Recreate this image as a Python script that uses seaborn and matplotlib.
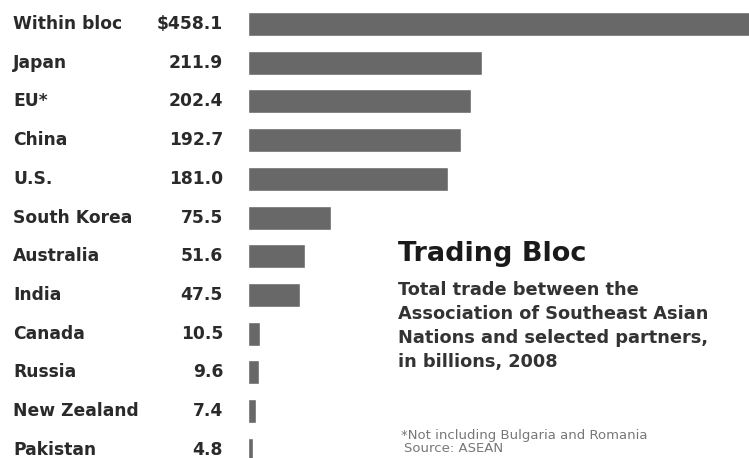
import matplotlib
matplotlib.use("Agg")
import matplotlib.pyplot as plt
import matplotlib.transforms as mtransforms
import seaborn as sns
import pandas as pd

categories = ["Within bloc", "Japan", "EU*", "China", "U.S.", "South Korea",
              "Australia", "India", "Canada", "Russia", "New Zealand", "Pakistan"]
values = [458.1, 211.9, 202.4, 192.7, 181.0, 75.5, 51.6, 47.5, 10.5, 9.6, 7.4, 4.8]
value_labels = ["$458.1", "211.9", "202.4", "192.7", "181.0", "75.5",
                "51.6", "47.5", "10.5", "9.6", "7.4", "4.8"]

title = "Trading Bloc"
subtitle = ["Total trade between the", "Association of Southeast Asian",
            "Nations and selected partners,", "in billions, 2008"]
notes = ["*Not including Bulgaria and Romania", "Source: ASEAN"]

df = pd.DataFrame({"partner": categories, "value": values})

sns.set_theme(style="white")
plt.rcParams["font.family"] = ["DejaVu Sans"]

W, H = 749, 458
fig = plt.figure(figsize=(W / 100, H / 100), dpi=100)
ax = fig.add_axes([248 / W, 0, 1 - 248 / W, 1])

sns.barplot(data=df, y="partner", x="value", orient="h", color="#686868",
            saturation=1, width=0.62, ax=ax)

ax.set_xlim(0, 454.2)
ax.set_ylim(11.21, -0.62)
ax.set_axis_off()

trans = mtransforms.blended_transform_factory(fig.transFigure, ax.transData)
for i, (cat, lab) in enumerate(zip(categories, value_labels)):
    ax.text(13 / W, i, cat, transform=trans, ha="left", va="center",
            fontsize=12.3, fontweight="bold", color="#2a2a2a", clip_on=False)
    ax.text(223 / W, i, lab, transform=trans, ha="right", va="center",
            fontsize=12.3, fontweight="bold", color="#2a2a2a", clip_on=False)

fig.text(398 / W, 1 - 254 / H, title, ha="left", va="center",
         fontsize=19.5, fontweight="bold", color="#1a1a1a")
for k, line in enumerate(subtitle):
    fig.text(398 / W, 1 - (290 + 24 * k) / H, line, ha="left", va="center",
             fontsize=12.8, fontweight="bold", color="#333333")
for k, line in enumerate(notes):
    fig.text((401 if k == 0 else 404) / W, 1 - (436 + 13 * k) / H, line,
             ha="left", va="center", fontsize=9.5, color="#777777")

fig.savefig("out.png", dpi=100)
